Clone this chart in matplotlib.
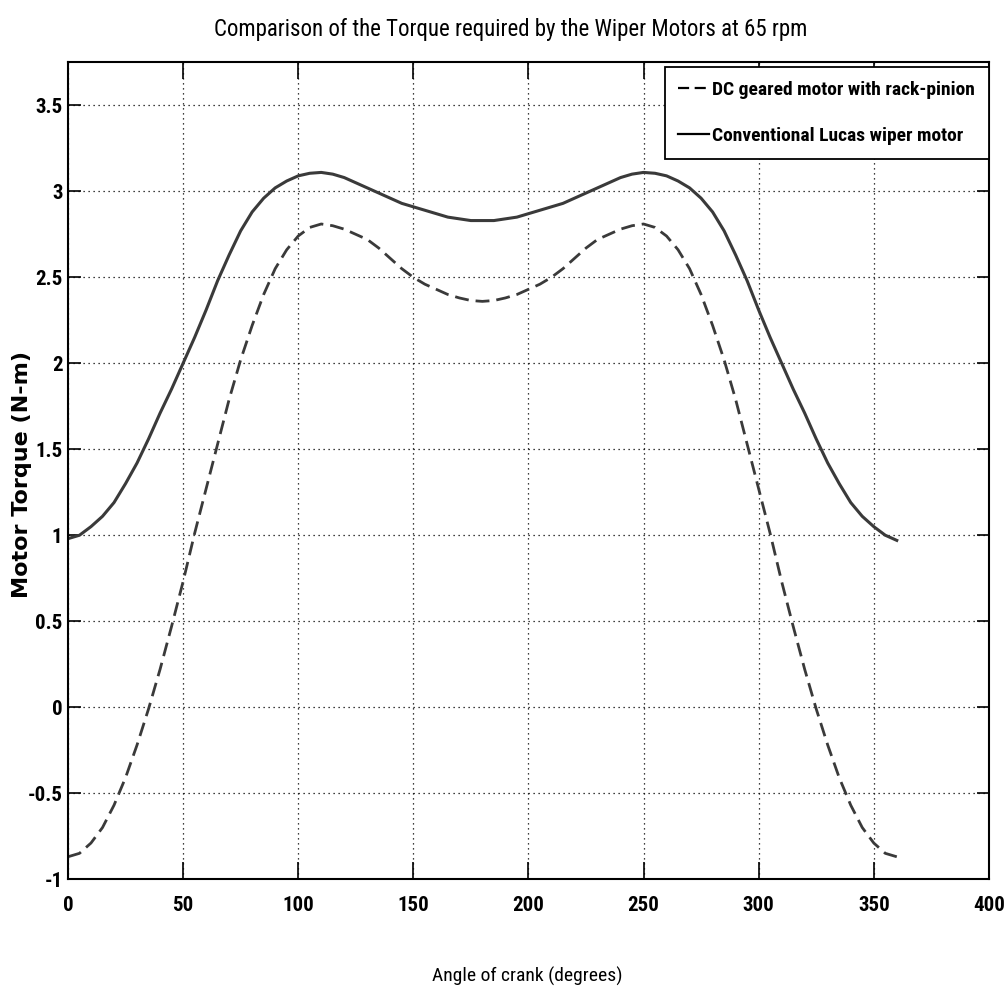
import matplotlib
matplotlib.use("Agg")
import matplotlib.pyplot as plt
from matplotlib import font_manager as fm

# ---- data ----
angle = [0, 5, 10, 15, 20, 25, 30, 35, 40, 45, 50, 55, 60, 65, 70, 75, 80, 85, 90,
         95, 100, 105, 110, 115, 120, 125, 130, 135, 140, 145, 150, 155, 160, 165, 170, 175, 180,
         185, 190, 195, 200, 205, 210, 215, 220, 225, 230, 235, 240, 245, 250, 255, 260,
         265, 270, 275, 280, 285, 290, 295, 300, 305, 310, 315, 320, 325, 330, 335, 340,
         345, 350, 355, 360]
lucas_torque = [0.98, 1.00, 1.05, 1.11, 1.19, 1.30, 1.42, 1.56, 1.71, 1.85, 2.00, 2.15, 2.31,
                2.48, 2.63, 2.77, 2.88, 2.96, 3.02, 3.06, 3.09, 3.105, 3.11, 3.10, 3.08, 3.05,
                3.02, 2.99, 2.96, 2.93, 2.91, 2.89, 2.87, 2.85, 2.84, 2.83, 2.83,
                2.83, 2.84, 2.85, 2.87, 2.89, 2.91, 2.93, 2.96, 2.99, 3.02, 3.05, 3.08, 3.10,
                3.11, 3.105, 3.09, 3.06, 3.02, 2.96, 2.88, 2.77, 2.63, 2.48, 2.31, 2.15, 2.00,
                1.85, 1.71, 1.56, 1.42, 1.30, 1.19, 1.11, 1.05, 1.00, 0.97]
dc_torque = [-0.87, -0.85, -0.79, -0.70, -0.57, -0.41, -0.22, -0.01, 0.22, 0.47, 0.73, 1.01,
             1.27, 1.53, 1.79, 2.02, 2.22, 2.40, 2.55, 2.66, 2.74, 2.79, 2.81, 2.80, 2.78,
             2.75, 2.72, 2.67, 2.61, 2.55, 2.50, 2.46, 2.43, 2.40, 2.38, 2.365, 2.36,
             2.365, 2.38, 2.40, 2.43, 2.46, 2.50, 2.55, 2.61, 2.67, 2.72, 2.75, 2.78, 2.80,
             2.81, 2.79, 2.74, 2.66, 2.55, 2.40, 2.22, 2.02, 1.79, 1.53, 1.27, 1.01, 0.73,
             0.47, 0.22, -0.01, -0.22, -0.41, -0.57, -0.70, -0.79, -0.85, -0.87]
series_labels = ["DC geared motor with rack-pinion", "Conventional Lucas wiper motor"]
xticks = [0, 50, 100, 150, 200, 250, 300, 350, 400]
yticks = [-1, -0.5, 0, 0.5, 1, 1.5, 2, 2.5, 3, 3.5]
ytick_labels = ["-1", "-0.5", "0", "0.5", "1", "1.5", "2", "2.5", "3", "3.5"]
title = "Comparison of the Torque required by the Wiper Motors at 65 rpm"
xlabel = "Angle of crank (degrees)"
ylabel = "Motor Torque (N-m)"

# ---- fonts ----
available = {f.name for f in fm.fontManager.ttflist}
narrow = "DejaVu Sans"
for cand in ["Liberation Sans Narrow", "Arial Narrow", "DejaVu Sans Condensed",
             "Roboto Condensed", "Open Sans Condensed", "Liberation Sans"]:
    if cand in available:
        narrow = cand
        break

fig = plt.figure(figsize=(10.07, 9.9), dpi=100)
ax = fig.add_axes([0.0675, 0.112, 0.9145, 0.825])

line_color = "#3a3a3a"
ax.plot(angle, dc_torque, color=line_color, lw=2.0, ls=(0, (5, 2.5)), label=series_labels[0])
ax.plot(angle, lucas_torque, color=line_color, lw=2.2, ls="-", label=series_labels[1])

ax.set_xlim(0, 400)
ax.set_ylim(-1, 3.75)
ax.set_xticks(xticks)
ax.set_xticklabels([str(t) for t in xticks])
ax.set_yticks(yticks)
ax.set_yticklabels(ytick_labels)

for lab in ax.get_xticklabels() + ax.get_yticklabels():
    lab.set_fontfamily(narrow)
    lab.set_fontweight("bold")
    lab.set_fontsize(15)

ax.tick_params(axis="both", direction="in", top=True, right=True, width=1.2, colors="black")
ax.tick_params(axis="x", length=12, pad=12)
ax.tick_params(axis="y", length=9, pad=4)

ax.grid(True, color="black", ls=(0, (1, 3)), lw=0.9)
for s in ax.spines.values():
    s.set_linewidth(1.5)
    s.set_color("black")

leg = ax.legend(loc="upper right", bbox_to_anchor=(1.0, 0.994),
                prop={"family": narrow, "weight": "bold", "size": 14},
                frameon=True, fancybox=False, edgecolor="black", framealpha=1,
                handlelength=1.6, handletextpad=0.15, borderaxespad=0.0,
                borderpad=0.7, labelspacing=1.45)
leg.get_frame().set_linewidth(1.3)
for h in leg.get_lines():
    h.set_color("black")
    h.set_linewidth(1.6)

fig.text(0.507, 0.970, title, ha="center", va="center", fontfamily=narrow, fontsize=16.5)
fig.text(0.0223, 0.521, ylabel, ha="center", va="center", rotation=90,
         fontfamily="DejaVu Sans", fontweight="bold", fontsize=16)
fig.text(0.524, 0.004, xlabel, ha="center", va="bottom", fontfamily=narrow, fontsize=14)

fig.savefig("out.png", dpi=100)
